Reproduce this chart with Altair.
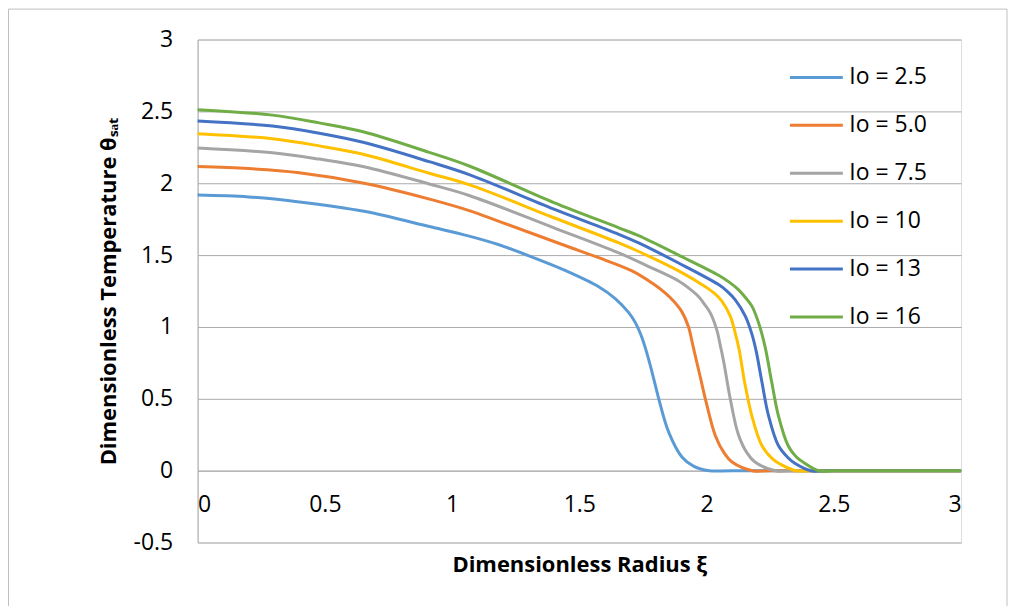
import altair as alt
import pandas as pd

# ---- data ----
labels = ["Io = 2.5", "Io = 5.0", "Io = 7.5", "Io = 10", "Io = 13", "Io = 16"]
colors = ["#5B9BD5", "#ED7D31", "#A5A5A5", "#FFC000", "#4472C4", "#70AD47"]

xi_25 = [0, 0.2, 0.392, 0.654, 0.915, 1.067, 1.184, 1.315, 1.446, 1.576, 1.642, 1.694, 1.72, 1.745, 1.765, 1.785, 1.812, 1.851, 1.903, 1.95, 2.01, 2.1, 3.0]
th_25 = [1.918, 1.905, 1.872, 1.805, 1.697, 1.632, 1.572, 1.486, 1.392, 1.28, 1.196, 1.10, 1.03, 0.93, 0.82, 0.69, 0.50, 0.268, 0.095, 0.03, 0.0, 0.0, 0.0]

xi_50 = [0, 0.2, 0.392, 0.654, 0.915, 1.067, 1.184, 1.446, 1.576, 1.707, 1.79, 1.838, 1.87, 1.903, 1.929, 1.945, 1.962, 1.978, 1.995, 2.034, 2.07, 2.10, 2.18, 2.25, 3.0]
th_50 = [2.116, 2.102, 2.075, 2.0, 1.888, 1.81, 1.735, 1.565, 1.482, 1.39, 1.30, 1.235, 1.18, 1.105, 1.0, 0.88, 0.75, 0.63, 0.50, 0.245, 0.12, 0.06, 0.0, 0.0, 0.0]

xi_75 = [0, 0.294, 0.478, 0.654, 0.91, 1.067, 1.40, 1.655, 1.773, 1.89, 1.93, 1.969, 1.995, 2.014, 2.04, 2.054, 2.067, 2.093, 2.125, 2.16, 2.19, 2.27, 2.34, 3.0]
th_75 = [2.245, 2.212, 2.168, 2.115, 1.995, 1.915, 1.69, 1.515, 1.42, 1.32, 1.27, 1.21, 1.15, 1.10, 0.98, 0.87, 0.76, 0.50, 0.25, 0.12, 0.06, 0.0, 0.0, 0.0]

xi_10 = [0, 0.294, 0.478, 0.654, 0.91, 1.067, 1.40, 1.655, 1.733, 1.89, 1.995, 2.03, 2.06, 2.093, 2.112, 2.127, 2.15, 2.178, 2.217, 2.26, 2.295, 2.35, 2.42, 3.0]
th_10 = [2.345, 2.31, 2.26, 2.2, 2.07, 1.99, 1.76, 1.585, 1.525, 1.39, 1.28, 1.235, 1.18, 1.075, 0.96, 0.85, 0.61, 0.38, 0.175, 0.08, 0.04, 0.0, 0.0, 0.0]

xi_13 = [0, 0.294, 0.478, 0.654, 0.91, 1.067, 1.40, 1.655, 1.733, 1.89, 2.047, 2.08, 2.112, 2.152, 2.178, 2.195, 2.217, 2.243, 2.282, 2.32, 2.348, 2.41, 2.48, 3.0]
th_13 = [2.433, 2.398, 2.348, 2.283, 2.15, 2.06, 1.82, 1.645, 1.585, 1.445, 1.295, 1.25, 1.19, 1.075, 0.95, 0.83, 0.62, 0.385, 0.175, 0.09, 0.05, 0.0, 0.0, 0.0]

xi_16 = [0, 0.294, 0.478, 0.654, 0.91, 1.067, 1.40, 1.655, 1.733, 1.89, 2.047, 2.09, 2.125, 2.15, 2.178, 2.204, 2.23, 2.256, 2.282, 2.32, 2.35, 2.387, 2.44, 2.51, 3.0]
th_16 = [2.512, 2.474, 2.42, 2.357, 2.215, 2.12, 1.865, 1.69, 1.635, 1.50, 1.36, 1.31, 1.26, 1.21, 1.145, 1.03, 0.86, 0.615, 0.383, 0.175, 0.10, 0.05, 0.0, 0.0, 0.0]

x_ticks = [0, 0.5, 1, 1.5, 2, 2.5, 3]
y_ticks = [-0.5, 0, 0.5, 1, 1.5, 2, 2.5, 3]

series = [(labels[0], xi_25, th_25), (labels[1], xi_50, th_50), (labels[2], xi_75, th_75),
          (labels[3], xi_10, th_10), (labels[4], xi_13, th_13), (labels[5], xi_16, th_16)]
rows = []
for name, xs, ys in series:
    for i, (a, b) in enumerate(zip(xs, ys)):
        rows.append({"series": name, "xi": a, "theta": b, "order": i})
df = pd.DataFrame(rows)

FONT = "Open Sans"
W, H = 765, 504
GRID = "#ABABAB"

lines = alt.Chart(df).mark_line(strokeWidth=3, interpolate="catmull-rom").encode(
    x=alt.X("xi:Q", scale=alt.Scale(domain=[0, 3], nice=False, zero=False),
            axis=alt.Axis(values=x_ticks, labelExpr="'' + datum.value", grid=False,
                          ticks=False, tickSize=0, domain=True, domainColor=GRID,
                          offset=-72, labelPadding=23, labelFontSize=23,
                          title="Dimensionless Radius ξ", titleFontSize=22,
                          titleFontWeight="bold", titlePadding=38)),
    y=alt.Y("theta:Q", scale=alt.Scale(domain=[-0.5, 3], nice=False, zero=False),
            axis=alt.Axis(values=y_ticks, labelExpr="'' + datum.value", grid=True,
                          gridColor=GRID, ticks=False, tickSize=0, domain=True,
                          domainColor=GRID, labelPadding=25, labelFontSize=23,
                          title="Dimensionless Temperature θₛₐₜ", titleFontSize=22,
                          titleFontWeight="bold", titlePadding=13)),
    color=alt.Color("series:N", scale=alt.Scale(domain=labels, range=colors), sort=labels,
                    legend=alt.Legend(title=None, orient="none", legendX=592, legendY=10,
                                      symbolType="stroke", symbolSize=2809,
                                      symbolStrokeWidth=3, labelFontSize=23,
                                      labelOffset=5, rowPadding=8)),
    order="order:Q",
)

border = alt.Chart(pd.DataFrame({"a": [0]})).mark_rect(
    fillOpacity=0, stroke="#BFBFBF", strokeWidth=1
).encode(
    x=alt.value(-189.5), x2=alt.value(811), y=alt.value(-30.5), y2=alt.value(620)
)

chart = alt.layer(border, lines).properties(
    width=W, height=H,
    padding={"left": 190, "top": 31, "right": 47, "bottom": 63},
    autosize=alt.AutoSizeParams(type="none"),
).configure_view(stroke=None).configure(
    font=FONT
).configure_axis(
    labelFont=FONT, titleFont=FONT, labelColor="#000000", titleColor="#000000"
).configure_legend(labelFont=FONT, labelColor="#000000")

chart.save("out.html", embed_options={"renderer": "svg", "actions": False})
